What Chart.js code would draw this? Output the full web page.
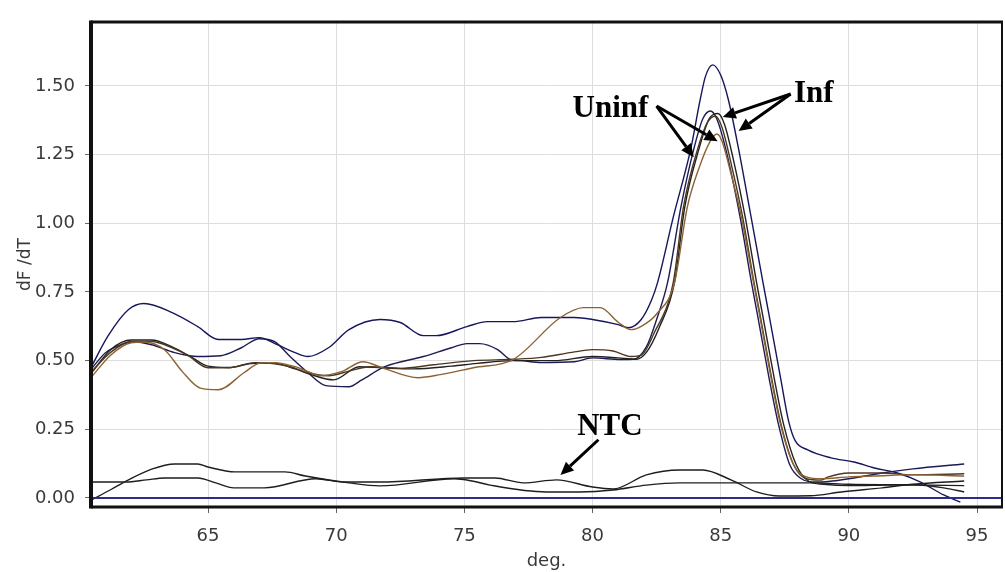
<!DOCTYPE html>
<html>
<head>
<meta charset="utf-8">
<script src="https://cdn.jsdelivr.net/npm/chart.js@4.4.1/dist/chart.umd.min.js"></script>
<style>
  html, body { margin: 0; padding: 0; background: #fff; }
  #wrap { width: 1005px; height: 572px; position: relative; }
</style>
</head>
<body>
<div id="wrap"><canvas id="c" width="1005" height="572"></canvas></div>
<script>
// Melt-curve derivative data (temperature in deg., dF/dT)
const infATemp = [60.45,61.1,61.9,62.5,63.6,64.6,65.4,66.3,67.0,67.7,68.4,68.9,69.7,70.5,71.7,72.5,73.4,73.9,75.1,75.9,76.9,78.0,79.3,80.0,81.0,81.4,81.9,82.3,82.54,83.16,83.83,84.2,84.41,84.69,85.0,85.3,85.7,86.18,86.65,86.87,87.35,87.65,87.9,88.4,89.3,90.2,91.0,91.9,92.8,93.7,94.35];
const infAVal  = [0.478,0.59,0.686,0.708,0.675,0.624,0.577,0.577,0.584,0.558,0.529,0.515,0.547,0.613,0.65,0.639,0.591,0.591,0.624,0.642,0.642,0.657,0.657,0.65,0.631,0.62,0.65,0.72,0.785,1.026,1.27,1.45,1.536,1.577,1.54,1.45,1.27,1.026,0.785,0.675,0.43,0.28,0.21,0.175,0.146,0.131,0.109,0.091,0.058,0.011,-0.015];

const uninfBTemp = [60.45,61.0,61.6,62.1,62.8,63.7,64.6,65.5,66.3,67.0,67.6,68.2,68.9,69.6,70.5,71.0,71.9,73.4,74.5,75.1,75.6,76.3,76.8,77.2,78.0,79.3,80.0,81.1,81.6,82.1,82.5,82.93,83.45,83.95,84.3,84.6,84.85,85.2,85.75,86.2,86.42,86.9,87.25,87.7,88.15,88.7,89.2,90.2,91.3,92.5,94.5];
const uninfBVal  = [0.47,0.529,0.558,0.569,0.558,0.529,0.515,0.518,0.547,0.58,0.569,0.515,0.456,0.409,0.405,0.43,0.478,0.515,0.547,0.562,0.562,0.54,0.504,0.50,0.493,0.496,0.51,0.504,0.505,0.55,0.65,0.785,1.06,1.27,1.38,1.409,1.38,1.27,1.026,0.785,0.675,0.43,0.27,0.12,0.07,0.058,0.06,0.073,0.091,0.106,0.124];

const uninfCTemp = [60.45,61.2,62.0,62.8,63.6,64.2,65.0,65.8,66.8,67.6,68.2,68.9,69.7,70.5,71.3,72.5,73.8,75.35,76.9,78.0,79.2,80.0,80.8,81.5,81.9,82.4,83.15,83.55,84.1,84.5,84.8,85.05,85.45,85.85,86.3,86.52,87.0,87.35,87.85,88.35,88.9,89.2,90.0,91.3,92.5,94.5];
const uninfCVal  = [0.46,0.53,0.57,0.57,0.547,0.52,0.474,0.474,0.493,0.489,0.478,0.456,0.445,0.462,0.478,0.472,0.485,0.50,0.505,0.512,0.53,0.54,0.535,0.515,0.52,0.6,0.785,1.06,1.27,1.37,1.39,1.35,1.2,1.026,0.785,0.675,0.43,0.27,0.12,0.07,0.065,0.077,0.091,0.091,0.084,0.088];

const infDTemp = [60.45,61.2,62.0,62.8,63.6,64.4,65.0,65.8,66.8,67.6,68.4,69.0,69.9,70.9,71.8,73.0,74.5,75.5,76.9,78.5,80.0,81.0,81.7,82.1,82.6,83.2,83.6,84.15,84.55,84.9,85.15,85.5,85.95,86.4,86.62,87.1,87.45,87.95,88.45,89.0,90.0,91.5,92.5,93.7,94.5];
const infDVal  = [0.455,0.54,0.575,0.575,0.55,0.51,0.48,0.475,0.49,0.49,0.47,0.45,0.43,0.478,0.474,0.47,0.48,0.49,0.50,0.50,0.515,0.51,0.505,0.53,0.62,0.785,1.06,1.27,1.38,1.40,1.36,1.23,1.026,0.785,0.675,0.43,0.27,0.12,0.06,0.05,0.045,0.047,0.048,0.037,0.022];

const uninfETemp = [60.45,61.2,62.0,62.5,63.3,64.0,64.7,65.4,66.4,67.0,67.6,68.4,68.9,69.4,70.2,71.05,71.8,73.2,74.06,75.35,76.9,78.75,79.65,80.3,81.0,81.5,81.9,82.5,83.2,83.7,84.15,84.6,84.85,85.05,85.35,85.8,86.28,86.5,86.98,87.33,87.85,88.4,88.9,90.0,91.0,92.5,94.5];
const uninfEVal  = [0.44,0.52,0.565,0.568,0.54,0.46,0.40,0.394,0.456,0.49,0.493,0.478,0.46,0.445,0.46,0.496,0.474,0.438,0.449,0.474,0.504,0.657,0.693,0.693,0.64,0.613,0.625,0.67,0.785,1.06,1.2,1.3,1.325,1.3,1.2,1.026,0.785,0.675,0.43,0.27,0.12,0.075,0.07,0.077,0.08,0.085,0.08];

// No-template controls
const ntc1Temp = [60.45,61.2,61.9,62.8,63.7,64.6,65.0,66.05,68.0,68.8,70.5,71.7,74.6,75.3,76.0,78.2,79.5,80.8,82.1,83.4,85.0,88.6,90.0,92.0,94.5];
const ntc1Val  = [-0.007,0.03,0.066,0.105,0.124,0.124,0.113,0.095,0.095,0.08,0.055,0.044,0.07,0.062,0.047,0.022,0.022,0.029,0.047,0.055,0.055,0.055,0.05,0.048,0.045];

const ntc2Temp = [60.45,61.8,62.6,63.3,64.6,65.3,66.0,67.2,69.2,70.3,71.7,75.0,76.2,77.3,78.6,80.0,80.8,82.1,83.4,84.3,85.4,86.4,87.3,88.5,89.7,91.3,92.5,94.5];
const ntc2Val  = [0.058,0.058,0.066,0.073,0.073,0.055,0.037,0.037,0.07,0.058,0.058,0.073,0.073,0.055,0.066,0.04,0.033,0.084,0.102,0.102,0.066,0.022,0.007,0.008,0.022,0.037,0.05,0.062];

// Zero reference line across the plotted range
const baseTemp = [60.435, 95.975];
const baseVal  = [0, 0];

// Axis ticks
const xTicks = [65, 70, 75, 80, 85, 90, 95];
const yTicks = [0, 0.25, 0.5, 0.75, 1.0, 1.25, 1.5];

// Callout labels and arrows (data coordinates)
const labelText = ['Uninf', 'Inf', 'NTC'];
const labelAt   = [[80.70, 1.387], [88.63, 1.442], [80.68, 0.230]];
const arrowFrom = [[82.50, 1.427], [82.50, 1.427], [87.73, 1.471], [87.73, 1.471], [80.23, 0.212]];
const arrowTo   = [[83.95, 1.241], [84.88, 1.299], [85.08, 1.387], [85.70, 1.336], [78.75, 0.084]];

function pts(t, v) { return t.map((x, i) => ({ x: x, y: v[i] })); }

function series(label, t, v, color, width) {
  return {
    label: label,
    data: pts(t, v),
    borderColor: color,
    borderWidth: width || 1.4,
    pointRadius: 0,
    showLine: true,
    fill: false,
    cubicInterpolationMode: 'monotone'
  };
}

const calloutPlugin = {
  id: 'callouts',
  afterDatasetsDraw(chart) {
    const ctx = chart.ctx;
    const xs = chart.scales.x, ys = chart.scales.y;
    ctx.save();
    ctx.fillStyle = '#000';
    ctx.strokeStyle = '#000';
    ctx.font = 'bold 31px "Liberation Serif", "Times New Roman", serif';
    ctx.textAlign = 'center';
    ctx.textBaseline = 'alphabetic';
    labelText.forEach((t, i) => {
      ctx.fillText(t, xs.getPixelForValue(labelAt[i][0]), ys.getPixelForValue(labelAt[i][1]));
    });
    ctx.lineWidth = 3;
    ctx.lineCap = 'butt';
    arrowFrom.forEach((f, i) => {
      const x0 = xs.getPixelForValue(f[0]), y0 = ys.getPixelForValue(f[1]);
      const x1 = xs.getPixelForValue(arrowTo[i][0]), y1 = ys.getPixelForValue(arrowTo[i][1]);
      const ang = Math.atan2(y1 - y0, x1 - x0);
      const hl = 13, hw = 6;
      const bx = x1 - hl * Math.cos(ang), by = y1 - hl * Math.sin(ang);
      ctx.beginPath();
      ctx.moveTo(x0, y0);
      ctx.lineTo(bx, by);
      ctx.stroke();
      ctx.beginPath();
      ctx.moveTo(x1, y1);
      ctx.lineTo(bx + hw * Math.sin(ang), by - hw * Math.cos(ang));
      ctx.lineTo(bx - hw * Math.sin(ang), by + hw * Math.cos(ang));
      ctx.closePath();
      ctx.fill();
    });
    ctx.restore();
  },
  afterDraw(chart) {
    // plot frame: heavy left/bottom/top, thinner right
    const a = chart.chartArea;
    const ctx = chart.ctx;
    ctx.save();
    ctx.strokeStyle = '#111';
    ctx.lineWidth = 4;
    ctx.beginPath(); ctx.moveTo(a.left, a.top - 1.5); ctx.lineTo(a.left, a.bottom + 1.5); ctx.stroke();
    ctx.lineWidth = 3;
    ctx.beginPath(); ctx.moveTo(a.left, a.bottom); ctx.lineTo(a.right + 1, a.bottom); ctx.stroke();
    ctx.beginPath(); ctx.moveTo(a.left, a.top); ctx.lineTo(a.right + 1, a.top); ctx.stroke();
    ctx.lineWidth = 2;
    ctx.beginPath(); ctx.moveTo(a.right, a.top); ctx.lineTo(a.right, a.bottom); ctx.stroke();
    ctx.restore();
  }
};

const tickFont = { family: '"DejaVu Sans", Verdana, sans-serif', size: 18 };

new Chart(document.getElementById('c'), {
  type: 'scatter',
  data: {
    datasets: [
      series('Zero', baseTemp, baseVal, '#2c2c8c', 2),
      series('NTC 1', ntc1Temp, ntc1Val, '#1e1e1e'),
      series('NTC 2', ntc2Temp, ntc2Val, '#1e1e1e'),
      series('Uninf E', uninfETemp, uninfEVal, '#8c6232'),
      series('Uninf C', uninfCTemp, uninfCVal, '#4c3822'),
      series('Inf D', infDTemp, infDVal, '#222222'),
      series('Uninf B', uninfBTemp, uninfBVal, '#1c1c52'),
      series('Inf A', infATemp, infAVal, '#16165e')
    ]
  },
  options: {
    responsive: false,
    animation: false,
    layout: { padding: { left: 0, right: 3, top: 22, bottom: 0 } },
    plugins: { legend: { display: false }, tooltip: { enabled: false } },
    scales: {
      x: {
        type: 'linear',
        min: 60.435,
        max: 95.975,
        afterBuildTicks: (s) => { s.ticks = xTicks.map(v => ({ value: v })); },
        afterFit: (s) => { s.height = 65; },
        border: { display: false },
        grid: { color: '#dedede', lineWidth: 1, tickLength: 6, tickColor: '#666', drawOnChartArea: true },
        ticks: { font: tickFont, color: '#3a3a3a', padding: 13, maxRotation: 0, callback: (v) => String(v) },
        title: { display: true, text: 'deg.', font: { family: '"DejaVu Sans", Verdana, sans-serif', size: 18 }, color: '#3a3a3a', padding: { top: 0, bottom: 0 } }
      },
      y: {
        type: 'linear',
        min: -0.0328,
        max: 1.733,
        afterBuildTicks: (s) => { s.ticks = yTicks.map(v => ({ value: v })); },
        afterFit: (s) => { s.width = 91; },
        border: { display: false },
        grid: { color: '#dedede', lineWidth: 1, tickLength: 6, tickColor: '#666' },
        ticks: { font: tickFont, color: '#3a3a3a', padding: 10, callback: (v) => Number(v).toFixed(2) },
        title: { display: true, text: 'dF /dT', font: { family: '"DejaVu Sans", Verdana, sans-serif', size: 17 }, color: '#3a3a3a', padding: { top: 15, bottom: 0 } }
      }
    }
  },
  plugins: [calloutPlugin]
});
</script>
</body>
</html>
